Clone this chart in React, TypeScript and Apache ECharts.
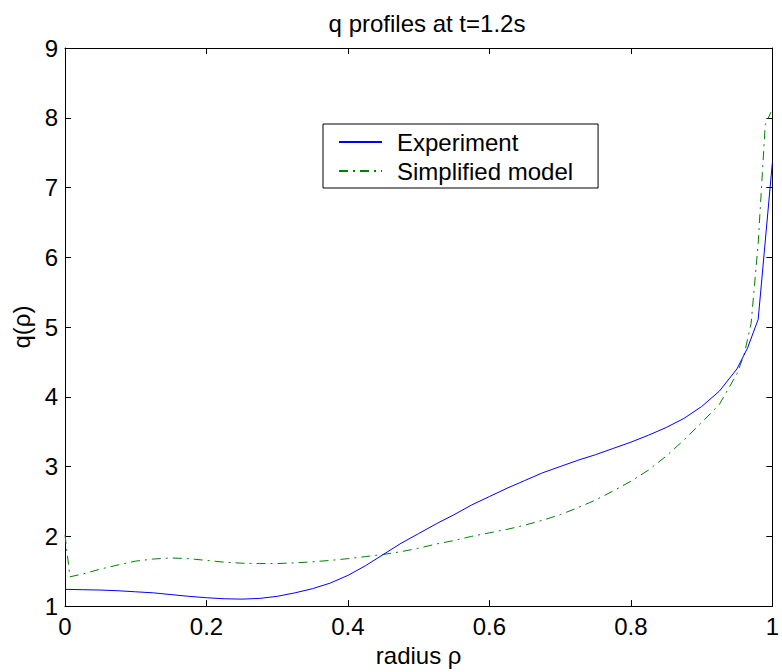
import React, { useEffect, useRef } from "react";
import * as echarts from "echarts";

// Experimental q profile
const expRadius = [
  0, 0.025, 0.05, 0.075, 0.1, 0.125, 0.15, 0.175, 0.2, 0.225, 0.25, 0.275, 0.3, 0.325, 0.35, 0.375,
  0.4, 0.425, 0.45, 0.475, 0.5, 0.525, 0.55, 0.575, 0.6, 0.625, 0.65, 0.675, 0.7, 0.725, 0.75, 0.775,
  0.8, 0.825, 0.85, 0.875, 0.9, 0.925, 0.95, 0.965, 0.98, 1.0,
];
const expQ = [
  1.24, 1.235, 1.23, 1.22, 1.205, 1.19, 1.165, 1.14, 1.12, 1.105, 1.1, 1.11, 1.14, 1.19, 1.25, 1.33,
  1.44, 1.58, 1.74, 1.9, 2.04, 2.18, 2.31, 2.45, 2.57, 2.69, 2.8, 2.91, 3.0, 3.09, 3.17, 3.26,
  3.35, 3.45, 3.56, 3.69, 3.86, 4.08, 4.4, 4.7, 5.11, 7.35,
];

// Simplified model q profile
const modelRadius = [
  0, 0.007, 0.025, 0.05, 0.075, 0.1, 0.125, 0.15, 0.175, 0.2, 0.225, 0.25, 0.275, 0.3, 0.325, 0.35,
  0.375, 0.4, 0.425, 0.45, 0.475, 0.5, 0.525, 0.55, 0.575, 0.6, 0.625, 0.65, 0.675, 0.7, 0.725, 0.75,
  0.775, 0.8, 0.825, 0.85, 0.875, 0.9, 0.925, 0.95, 0.96, 0.97, 0.98, 0.99, 0.998,
];
const modelQ = [
  2.02, 1.42, 1.46, 1.53, 1.59, 1.645, 1.675, 1.69, 1.68, 1.655, 1.63, 1.615, 1.61, 1.61, 1.62, 1.635,
  1.655, 1.68, 1.71, 1.74, 1.78, 1.83, 1.89, 1.94, 2.0, 2.05, 2.1, 2.16, 2.23, 2.31, 2.41, 2.52,
  2.65, 2.79, 2.95, 3.15, 3.38, 3.63, 3.89, 4.33, 4.6, 5.05, 6.2, 7.9, 8.08,
];

const xTicks = [0, 0.2, 0.4, 0.6, 0.8, 1];
const yTicks = [1, 2, 3, 4, 5, 6, 7, 8, 9];

const FONT = "'Liberation Sans', Arial, Helvetica, sans-serif";

const pairs = (xs: number[], ys: number[]) => xs.map((x, i) => [x, ys[i]]);

export default function App() {
  const ref = useRef<HTMLDivElement>(null);

  useEffect(() => {
    if (!ref.current) return;
    const chart = echarts.init(ref.current, undefined, { renderer: "svg" });

    const axisLine = { show: true, onZero: false, lineStyle: { color: "#000", width: 1 } };
    const tickInside = { show: true, inside: true, length: 6, lineStyle: { color: "#000", width: 1 } };

    const xBase = {
      type: "value" as const,
      min: xTicks[0],
      max: xTicks[xTicks.length - 1],
      interval: 0.2,
      axisLine,
      axisTick: tickInside,
      splitLine: { show: false },
    };
    const yBase = {
      type: "value" as const,
      min: yTicks[0],
      max: yTicks[yTicks.length - 1],
      interval: 1,
      axisLine,
      axisTick: tickInside,
      splitLine: { show: false },
    };

    chart.setOption({
      animation: false,
      backgroundColor: "#fff",
      title: {
        text: "q profiles at t=1.2s",
        left: 422,
        textAlign: "center",
        top: 6,
        textStyle: { fontFamily: FONT, fontSize: 24, fontWeight: "normal", color: "#000" },
      },
      grid: { left: 65, right: 2, top: 48, bottom: 61, containLabel: false },
      legend: {
        left: 323,
        top: 124,
        orient: "vertical",
        backgroundColor: "#fff",
        borderColor: "#000",
        borderWidth: 1,
        borderRadius: 0,
        padding: [6, 25, 5, 15],
        itemGap: 5,
        itemWidth: 43,
        itemHeight: 14,
        itemStyle: { opacity: 0 },
        data: ["Experiment", "Simplified model"],
        textStyle: {
          fontFamily: FONT,
          fontSize: 24,
          lineHeight: 24,
          color: "#000",
          padding: [0, 0, 0, 10],
        },
      },
      xAxis: [
        {
          ...xBase,
          position: "bottom",
          name: "radius ρ",
          nameLocation: "middle",
          nameGap: 33,
          nameTextStyle: { fontFamily: FONT, fontSize: 24, color: "#000" },
          axisLabel: {
            fontFamily: FONT,
            fontSize: 24,
            color: "#000",
            margin: 8,
            formatter: (v: number) => String(v),
          },
        },
        { ...xBase, position: "top", axisLabel: { show: false } },
      ],
      yAxis: [
        {
          ...yBase,
          position: "left",
          name: "q(ρ)",
          nameLocation: "middle",
          nameGap: 26,
          nameTextStyle: { fontFamily: FONT, fontSize: 24, color: "#000" },
          axisLabel: { fontFamily: FONT, fontSize: 24, color: "#000", margin: 7 },
        },
        { ...yBase, position: "right", axisLabel: { show: false } },
      ],
      series: [
        {
          name: "Experiment",
          type: "line",
          data: pairs(expRadius, expQ),
          showSymbol: false,
          symbol: "none",
          smooth: false,
          color: "#0000ff",
          lineStyle: { color: "#0000ff", width: 1 },
          z: 3,
        },
        {
          name: "Simplified model",
          type: "line",
          data: pairs(modelRadius, modelQ),
          showSymbol: false,
          symbol: "none",
          smooth: false,
          color: "#008000",
          lineStyle: { color: "#008000", width: 1, type: [9, 5, 2, 5] },
          z: 2,
        },
      ],
    });

    return () => chart.dispose();
  }, []);

  return (
    <div
      ref={ref}
      style={{ position: "absolute", left: 0, top: 0, width: 782, height: 672 }}
    />
  );
}
